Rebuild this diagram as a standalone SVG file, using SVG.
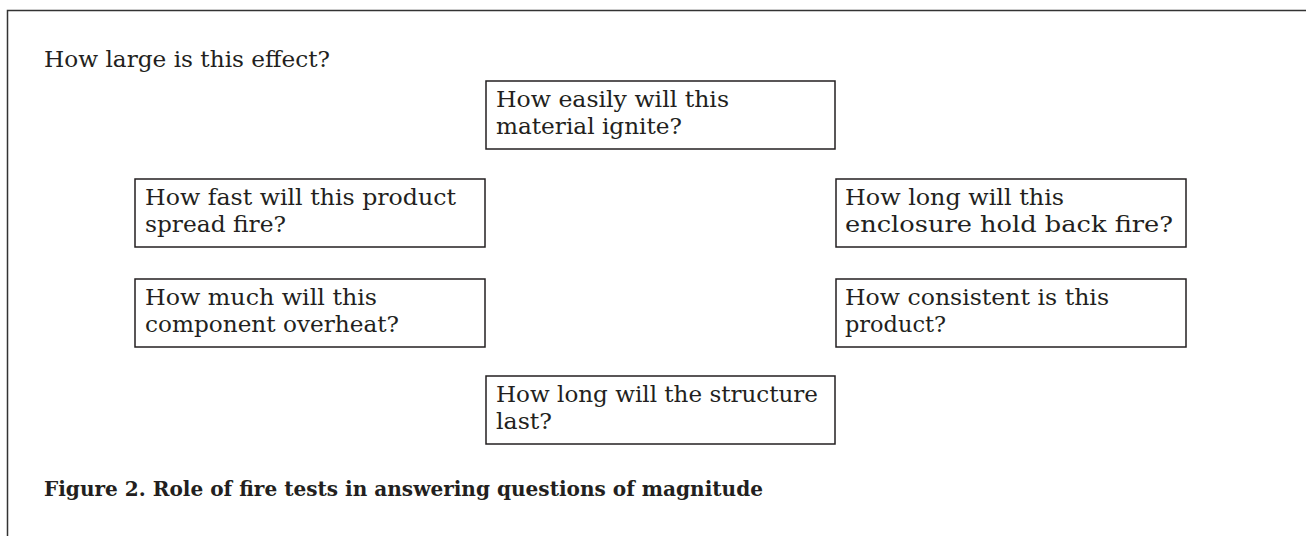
<svg xmlns="http://www.w3.org/2000/svg" width="1306" height="536" viewBox="0 0 1306 536">
<style>
.t{font-family:"DejaVu Serif","Liberation Serif",serif;font-size:23px;fill:#231f20}
.cap{font-family:"DejaVu Serif","Liberation Serif",serif;font-size:21px;font-weight:bold;fill:#231f20}
.box{fill:#fff;stroke:#231f20;stroke-width:1.5}
</style>
<rect x="7.5" y="10.5" width="1310" height="540" fill="#fff" stroke="#333" stroke-width="1.5"/>
<text class="t" x="44" y="67" textLength="286" lengthAdjust="spacingAndGlyphs">How large is this effect?</text>
<g id="n-ignite">
<rect class="box" x="486" y="81" width="349" height="68"/>
<text class="t" x="496" y="107" textLength="233" lengthAdjust="spacingAndGlyphs">How easily will this</text>
<text class="t" x="496" y="134" textLength="186" lengthAdjust="spacingAndGlyphs">material ignite?</text>
</g>
<g id="n-spread">
<rect class="box" x="135" y="179" width="350" height="68"/>
<text class="t" x="145" y="205" textLength="311" lengthAdjust="spacingAndGlyphs">How fast will this product</text>
<text class="t" x="145" y="232" textLength="141" lengthAdjust="spacingAndGlyphs">spread fire?</text>
</g>
<g id="n-overheat">
<rect class="box" x="135" y="279" width="350" height="68"/>
<text class="t" x="145" y="305" textLength="232" lengthAdjust="spacingAndGlyphs">How much will this</text>
<text class="t" x="145" y="332" textLength="254" lengthAdjust="spacingAndGlyphs">component overheat?</text>
</g>
<g id="n-enclosure">
<rect class="box" x="836" y="179" width="350" height="68"/>
<text class="t" x="845" y="205" textLength="219" lengthAdjust="spacingAndGlyphs">How long will this</text>
<text class="t" x="845" y="232" textLength="328" lengthAdjust="spacingAndGlyphs">enclosure hold back fire?</text>
</g>
<g id="n-consistent">
<rect class="box" x="836" y="279" width="350" height="68"/>
<text class="t" x="845" y="305" textLength="264" lengthAdjust="spacingAndGlyphs">How consistent is this</text>
<text class="t" x="845" y="332" textLength="101" lengthAdjust="spacingAndGlyphs">product?</text>
</g>
<g id="n-structure">
<rect class="box" x="486" y="376" width="349" height="68"/>
<text class="t" x="496" y="402" textLength="322" lengthAdjust="spacingAndGlyphs">How long will the structure</text>
<text class="t" x="496" y="429" textLength="56" lengthAdjust="spacingAndGlyphs">last?</text>
</g>
<g id="connectors"></g>
<text class="cap" x="44" y="496" textLength="719" lengthAdjust="spacingAndGlyphs">Figure 2. Role of fire tests in answering questions of magnitude</text>
</svg>
